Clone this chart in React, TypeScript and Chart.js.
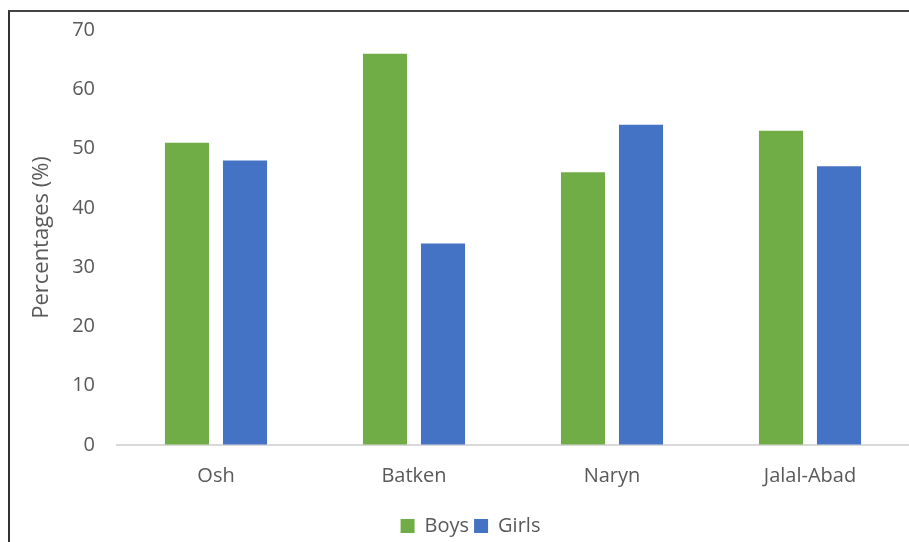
import React, { useEffect, useRef } from "react";
import { Chart, registerables } from "chart.js";

Chart.register(...registerables);

const categories = ["Osh", "Batken", "Naryn", "Jalal-Abad"];
const boys = [51, 66, 46, 53];
const girls = [48, 34, 54, 47];
const yTicks = [0, 10, 20, 30, 40, 50, 60, 70];

const FONT = "'Open Sans', 'Liberation Sans', sans-serif";
const TEXT = "#595959";

export default function App() {
  const ref = useRef<HTMLCanvasElement | null>(null);

  useEffect(() => {
    if (!ref.current) return;
    const chart = new Chart(ref.current, {
      type: "bar",
      data: {
        labels: categories,
        datasets: [
          { label: "Boys", data: boys, backgroundColor: "#70AD47", categoryPercentage: 0.586, barPercentage: 0.76 },
          { label: "Girls", data: girls, backgroundColor: "#4472C4", categoryPercentage: 0.586, barPercentage: 0.76 },
        ],
      },
      options: {
        animation: false,
        responsive: false,
        maintainAspectRatio: false,
        layout: { padding: { left: 32, top: 30, right: 0, bottom: -4 } },
        plugins: {
          tooltip: { enabled: false },
          legend: {
            position: "bottom",
            labels: {
              boxWidth: 14,
              boxHeight: 14,
              padding: 5,
              color: TEXT,
              font: { family: FONT, size: 20 },
            },
          },
        },
        scales: {
          x: {
            grid: { display: false, drawTicks: false },
            border: { color: "#D9D9D9", width: 2 },
            ticks: { color: TEXT, font: { family: FONT, size: 20 }, padding: 19 },
            afterFit: (s: any) => { s.height = 66; },
          },
          y: {
            min: 0,
            max: 70,
            afterBuildTicks: (s: any) => { s.ticks = yTicks.map((v) => ({ value: v })); },
            grid: { drawOnChartArea: false, drawTicks: true, tickLength: 18, tickColor: "rgba(0,0,0,0)" },
            border: { display: false },
            ticks: { color: TEXT, font: { family: FONT, size: 20 }, padding: 4 },
            title: {
              display: true,
              text: "Percentages (%)",
              color: TEXT,
              font: { family: FONT, size: 22 },
              padding: { top: -3, bottom: 0 },
            },
            afterFit: (s: any) => { s.width = 117 - 32; },
          },
        },
      },
    });
    return () => chart.destroy();
  }, []);

  return (
    <div style={{ position: "fixed", left: 0, top: 0, width: 909, height: 542, background: "#fff", overflow: "hidden" }}>
      <div style={{ position: "absolute", left: 8, top: 10, width: 920, height: 560, borderLeft: "2px solid #333", borderTop: "2px solid #444" }} />
      <canvas ref={ref} width={909} height={542} style={{ position: "absolute", left: 0, top: 0 }} />
    </div>
  );
}
